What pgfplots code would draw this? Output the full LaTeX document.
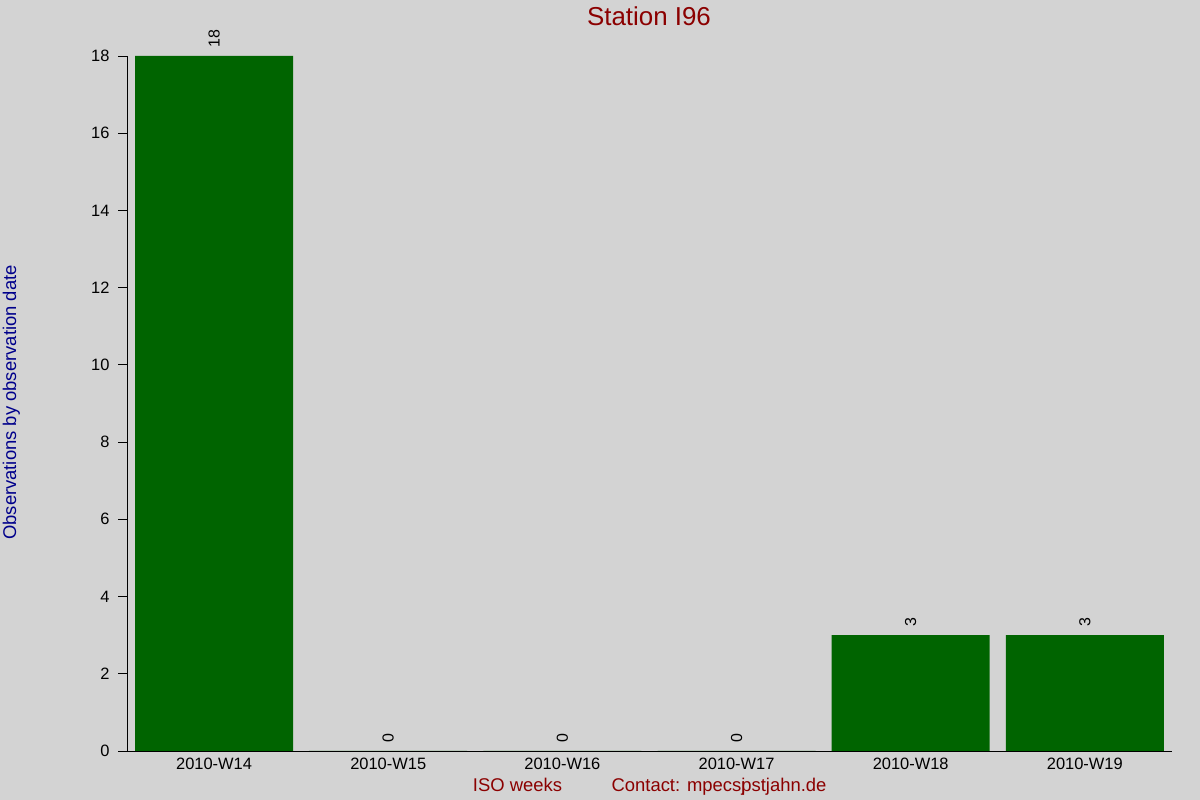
\documentclass[border=0pt]{standalone}
\usepackage{fontspec}
\setmainfont{Liberation Sans}
\usepackage{pgfplots}
\pgfplotsset{compat=1.18}
\definecolor{bg}{HTML}{D3D3D3}
\definecolor{bargreen}{HTML}{006400}
\definecolor{titlered}{HTML}{8B0000}
\definecolor{labblue}{HTML}{00008B}
\begin{document}
\begin{tikzpicture}[x=1bp,y=1bp]
\fill[bg] (0,0) rectangle (1200,800);
\path[use as bounding box] (0,0) rectangle (1200,800);
\begin{axis}[
  at={(127bp,49bp)}, anchor=south west,
  scale only axis, width=1045bp, height=695bp,
  xmin=-0.5, xmax=5.5, ymin=0, ymax=18,
  axis x line*=bottom, axis y line*=left,
  axis line style={black, line width=0.9bp},
  xtick=data,
  xticklabels={2010-W14,2010-W15,2010-W16,2010-W17,2010-W18,2010-W19},
  x tick style={draw=none},
  ytick={0,2,...,18},
  y tick style={black, line width=0.9bp},
  tick align=outside, major tick length=9bp,
  ybar, bar width=158bp, bar shift=0pt,
  ticklabel style={font=\fontsize{16.5}{19}\selectfont},
  xticklabel style={yshift=5bp},
  yticklabel style={xshift=-5bp},
  /pgf/number format/assume math mode=true,
  nodes near coords,
  every node near coord/.append style={rotate=90, anchor=west, font=\fontsize{16}{18}\selectfont, inner xsep=8bp, inner ysep=0pt, black},
  clip=false,
]
\addplot[fill=bargreen, draw=none] coordinates {(0,18) (1,0) (2,0) (3,0) (4,3) (5,3)};
\end{axis}
\node[anchor=base, text=titlered, font=\fontsize{26}{30}\selectfont] at (649,774) {Station I96};
\node[anchor=base, rotate=90, text=labblue, font=\fontsize{18.5}{22}\selectfont] at (16,397.5) {Observations by observation date};
\node[anchor=base, text=titlered, font=\fontsize{18.5}{22}\selectfont] at (517.5,8) {ISO weeks};
\node[anchor=base, text=titlered, font=\fontsize{18.5}{22}\selectfont] at (719,8) {Contact: mpecs\makebox[0pt][l]{j}pstjahn.de};
\end{tikzpicture}
\end{document}
